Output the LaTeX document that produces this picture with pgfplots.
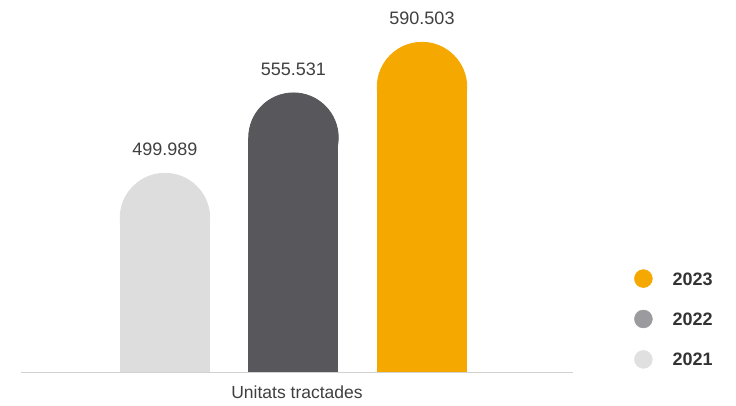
\documentclass[border=0pt]{standalone}
\usepackage{pgfplots}
\pgfplotsset{compat=1.18}
\usepackage{pgfplotstable}
\usepackage{fontspec}
\setmainfont{Liberation Sans}

\definecolor{c21}{HTML}{DDDDDD}
\definecolor{c22}{HTML}{58585C}
\definecolor{c23}{HTML}{F5A800}
\definecolor{leg22}{HTML}{9B9B9F}
\definecolor{leg21}{HTML}{E0E0E0}
\definecolor{axgray}{HTML}{D2D2D2}
\definecolor{txt}{HTML}{3F3F3F}
\definecolor{legtxt}{HTML}{333333}

% x = bar position, v = value
\pgfplotstableread{
x v label
0 499.989 499.989
1 555.531 555.531
2 590.503 590.503
}\bars

\pgfplotsset{roundbar/.style={forget plot, ybar, bar width=90pt, bar shift=0pt,
    color=#1, fill=#1, draw=none,
    mark=*, mark size=44.8pt, mark options={solid, draw=#1, fill=#1, line width=0.8pt}}}

\begin{document}
\begin{tikzpicture}
\useasboundingbox (0,0) rectangle (736pt,406pt);
\begin{axis}[
    at={(21pt,33pt)}, anchor=south west,
    scale only axis,
    width=552pt, height=373pt,
    xmin=-1.12, xmax=3.175,
    ymin=361.8, ymax=619.6,
    enlargelimits=false,
    axis x line=bottom, axis y line=none,
    axis line style={draw=axgray, line width=1pt},
    x axis line style={-},
    axis on top,
    xtick=\empty, ytick=\empty,
    xlabel={Unitats tractades},
    xlabel style={at={(axis description cs:0.5,0)}, anchor=base, yshift=-26pt,
        font=\fontsize{17.5}{17.5}\selectfont, text=txt},
    legend style={at={(axis description cs:1.1105,0.1448)}, anchor=west,
        draw=none, fill=none, inner sep=0pt, row sep=22pt, column sep=20pt,
        font=\fontsize{18}{18}\selectfont\bfseries,
        nodes={inner sep=0pt, text height=13pt, text depth=0pt, text=legtxt}},
    legend cell align=left,
]
% bars: rectangle up to v minus radius, round top as a circle mark (r = 45pt = 31.1 units)
\addplot[roundbar=c21, skip coords between index={1}{3}]
    table[x=x, y expr=\thisrow{v}-31.1] {\bars};
\addplot[roundbar=c22, skip coords between index={0}{1}, skip coords between index={2}{3}]
    table[x=x, y expr=\thisrow{v}-31.1] {\bars};
\addplot[roundbar=c23, skip coords between index={0}{2}]
    table[x=x, y expr=\thisrow{v}-31.1] {\bars};
% value labels
\addplot[forget plot, draw=none, mark=none, nodes near coords,
    point meta=explicit symbolic,
    every node near coord/.append style={anchor=base, yshift=17.5pt,
        font=\fontsize{18}{18}\selectfont, text=txt}]
    table[x=x, y=v, meta=label] {\bars};

\addlegendimage{legend image code/.code={\fill[c23] (9pt,0pt) circle (9pt);}}
\addlegendentry{2023}
\addlegendimage{legend image code/.code={\fill[leg22] (9pt,0pt) circle (9pt);}}
\addlegendentry{2022}
\addlegendimage{legend image code/.code={\fill[leg21] (9pt,0pt) circle (9pt);}}
\addlegendentry{2021}
\end{axis}
\end{tikzpicture}
\end{document}
